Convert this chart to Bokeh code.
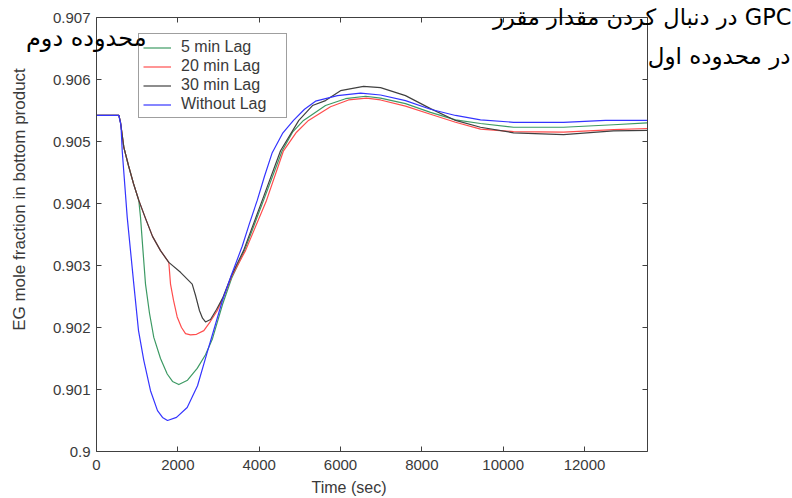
from bokeh.plotting import figure
from bokeh.models import Range1d, LinearAxis, FixedTicker, Legend, LegendItem, Label
from bokeh.embed import file_html
from bokeh.resources import INLINE
import math

# ---------------- data ----------------
x_ticks = [0, 2000, 4000, 6000, 8000, 10000, 12000]
x_tick_labels = ["0", "2000", "4000", "6000", "8000", "10000", "12000"]
y_ticks = [0.9, 0.901, 0.902, 0.903, 0.904, 0.905, 0.906, 0.907]
y_tick_labels = ["0.9", "0.901", "0.902", "0.903", "0.904", "0.905", "0.906", "0.907"]
x_limits = [0, 13541]
y_limits = [0.9, 0.907]

series_names = ["5 min Lag", "20 min Lag", "30 min Lag", "Without Lag"]

t_5min = [0, 550, 590, 671, 787, 910, 1040, 1082, 1143, 1205, 1303, 1409, 1574, 1739, 1869,
          2024, 2238, 2476, 2680, 2852, 3098, 3320, 3639, 4107, 4566, 4820, 5090, 5631, 6123,
          6615, 6984, 7598, 8213, 8828, 9442, 10254, 11484, 12713, 13541]
eg_5min = [0.90542, 0.90542, 0.90531, 0.90491, 0.90461, 0.90432, 0.90405, 0.90378, 0.90324,
           0.90270, 0.90223, 0.90184, 0.90150, 0.90125, 0.90113, 0.90108, 0.90115, 0.90134,
           0.90156, 0.90182, 0.90237, 0.90279, 0.90324, 0.90405, 0.90485, 0.90515, 0.90534,
           0.90558, 0.90569, 0.90573, 0.90570, 0.90561, 0.90547, 0.90535, 0.90529, 0.90523,
           0.90523, 0.90527, 0.90530]

t_20min = [0, 550, 590, 671, 787, 910, 1040, 1205, 1377, 1574, 1778, 1820, 1893, 1984, 2090,
           2189, 2311, 2459, 2639, 2803, 2968, 3098, 3320, 3664, 4180, 4598, 4918, 5213, 5754,
           6197, 6639, 6984, 7598, 8213, 8828, 9442, 10254, 11484, 12713, 13541]
eg_20min = [0.90542, 0.90542, 0.90531, 0.90491, 0.90461, 0.90432, 0.90405, 0.90376, 0.90347,
            0.90324, 0.90305, 0.90270, 0.90244, 0.90217, 0.90200, 0.90190, 0.90188, 0.90189,
            0.90195, 0.90210, 0.90227, 0.90245, 0.90282, 0.90324, 0.90405, 0.90485, 0.90515,
            0.90534, 0.90556, 0.90567, 0.90570, 0.90567, 0.90557, 0.90544, 0.90531, 0.90520,
            0.90516, 0.90515, 0.90519, 0.90521]

t_30min = [0, 550, 590, 671, 787, 910, 1040, 1205, 1377, 1574, 1778, 2066, 2353, 2434, 2533,
           2607, 2680, 2803, 2951, 3098, 3320, 3615, 4075, 4525, 4975, 5311, 5631, 6000, 6566,
           6984, 7598, 8213, 8828, 9442, 10254, 11484, 12713, 13541]
eg_30min = [0.90542, 0.90542, 0.90531, 0.90491, 0.90461, 0.90432, 0.90405, 0.90376, 0.90347,
            0.90324, 0.90305, 0.90289, 0.90270, 0.90252, 0.90227, 0.90215, 0.90209, 0.90213,
            0.90229, 0.90247, 0.90284, 0.90324, 0.90405, 0.90485, 0.90534, 0.90558, 0.90566,
            0.90582, 0.90589, 0.90587, 0.90574, 0.90553, 0.90534, 0.90523, 0.90514, 0.90511,
            0.90517, 0.90518]

t_nolag = [0, 550, 602, 632, 755, 917, 1033, 1163, 1328, 1500, 1623, 1746, 1967, 2230, 2484,
           2722, 2902, 3098, 3320, 3583, 3762, 3952, 4131, 4321, 4574, 4844, 5115, 5385, 5926,
           6492, 6984, 7598, 8213, 8828, 9442, 10254, 11484, 12516, 13541]
eg_nolag = [0.90542, 0.90542, 0.90526, 0.90485, 0.90378, 0.90270, 0.90195, 0.90147, 0.90098,
            0.90066, 0.90055, 0.90050, 0.90055, 0.90071, 0.90106, 0.90160, 0.90200, 0.90244,
            0.90285, 0.90331, 0.90368, 0.90405, 0.90444, 0.90482, 0.90513, 0.90534, 0.90552,
            0.90565, 0.90574, 0.90578, 0.90575, 0.90566, 0.90552, 0.90542, 0.90535, 0.90531,
            0.90531, 0.90534, 0.90534]

x_title = "Time (sec)"
y_title = "EG mole fraction in bottom product"
note_top = "در دنبال کردن مقدار مقرر GPC"
note_right = "در محدوده اول"
note_left = "محدوده دوم"

# ---------------- figure ----------------
# The frame fills the whole canvas; the axes are pinned (fixed_location) to the
# data box so that the annotations around the box are not clipped.
W, H = 792, 498
PX_L, PX_R, PX_T, PX_B = 96, 646.7, 17, 451
sx = (x_limits[1] - x_limits[0]) / (PX_R - PX_L)
sy = (y_limits[1] - y_limits[0]) / (PX_B - PX_T)
xr = Range1d(x_limits[0] - PX_L * sx, x_limits[1] + (W - PX_R) * sx)
yr = Range1d(y_limits[0] - (H - PX_B) * sy, y_limits[1] + PX_T * sy)

def px_x(px):
    return x_limits[0] + (px - PX_L) * sx

def px_y(py):
    return y_limits[0] + (PX_B - py) * sy

p = figure(width=W, height=H, output_backend="svg", toolbar_location=None,
           x_range=xr, y_range=yr, x_axis_location=None, y_axis_location=None,
           min_border=0)
p.background_fill_color = "white"
p.border_fill_color = "white"
p.outline_line_color = None
p.grid.visible = False

tick_font = "Liberation Sans"
axis_col = "#404040"
text_col = "#3a3a3a"

def make_axis(ticks, labels, show_labels, standoff, loc, bounds):
    ax = LinearAxis(fixed_location=loc, bounds=tuple(bounds))
    ax.ticker = FixedTicker(ticks=ticks)
    ax.major_label_overrides = {k: v for k, v in zip(ticks, labels)}
    ax.axis_line_color = axis_col
    ax.axis_line_width = 1
    ax.major_tick_line_color = axis_col
    ax.major_tick_in = 5
    ax.major_tick_out = 0
    ax.minor_tick_line_color = None
    ax.major_label_text_font = tick_font
    ax.major_label_text_color = text_col
    ax.major_label_standoff = standoff
    if show_labels:
        ax.major_label_text_font_size = "15px"
    else:
        ax.major_label_text_font_size = "0px"
        ax.major_label_text_alpha = 0
    return ax

p.add_layout(make_axis(x_ticks, x_tick_labels, True, 8, y_limits[0], x_limits), "below")
p.add_layout(make_axis(y_ticks, y_tick_labels, True, 6, x_limits[0], y_limits), "left")
p.add_layout(make_axis(x_ticks, x_tick_labels, False, 0, y_limits[1], x_limits), "above")
p.add_layout(make_axis(y_ticks, y_tick_labels, False, 0, x_limits[1], y_limits), "right")

colors = ["#3d9a64", "#ff4d4d", "#404040", "#3434ff"]
data = [(t_5min, eg_5min), (t_20min, eg_20min), (t_30min, eg_30min), (t_nolag, eg_nolag)]
items = []
for name, col, (tx, ty) in zip(series_names, colors, data):
    r = p.line(tx, ty, line_color=col, line_width=1.2, line_join="round")
    items.append(LegendItem(label=name, renderers=[r]))

# transparent legend body so the Persian note that overlaps it stays visible
legend = Legend(items=items, location=(138, H - 118), margin=0, padding=4, spacing=1,
                glyph_width=28, glyph_height=17, label_height=17, label_width=101,
                label_standoff=10, label_text_font=tick_font, label_text_font_size="16px",
                label_text_color=text_col, border_line_color=axis_col, border_line_width=1,
                background_fill_color="white", background_fill_alpha=0.0)
p.add_layout(legend, "center")

# axis titles (placed like the original, off-centre)
p.add_layout(Label(x=px_x(348.5), y=px_y(487), text=x_title, text_align="center",
                   text_baseline="middle", text_font=tick_font, text_font_size="16px",
                   text_color=text_col))
p.add_layout(Label(x=px_x(19), y=px_y(199), text=y_title, angle=math.pi / 2, text_align="center",
                   text_baseline="middle", text_font=tick_font, text_font_size="17px",
                   text_color=text_col))

# Persian annotations
fa_font = "DejaVu Sans"
p.add_layout(Label(x=px_x(791), y=px_y(16), text=note_top, text_align="right",
                   text_baseline="alphabetic", text_font=fa_font, text_font_size="22.5px",
                   text_color="black", level="overlay"))
p.add_layout(Label(x=px_x(790), y=px_y(55), text=note_right, text_align="right",
                   text_baseline="alphabetic", text_font=fa_font, text_font_size="23px",
                   text_color="black", level="overlay"))
p.add_layout(Label(x=px_x(146), y=px_y(37), text=note_left, text_align="right",
                   text_baseline="alphabetic", text_font=fa_font, text_font_size="24px",
                   text_color="black", level="overlay"))

open("out.html", "w").write(file_html(p, INLINE))
